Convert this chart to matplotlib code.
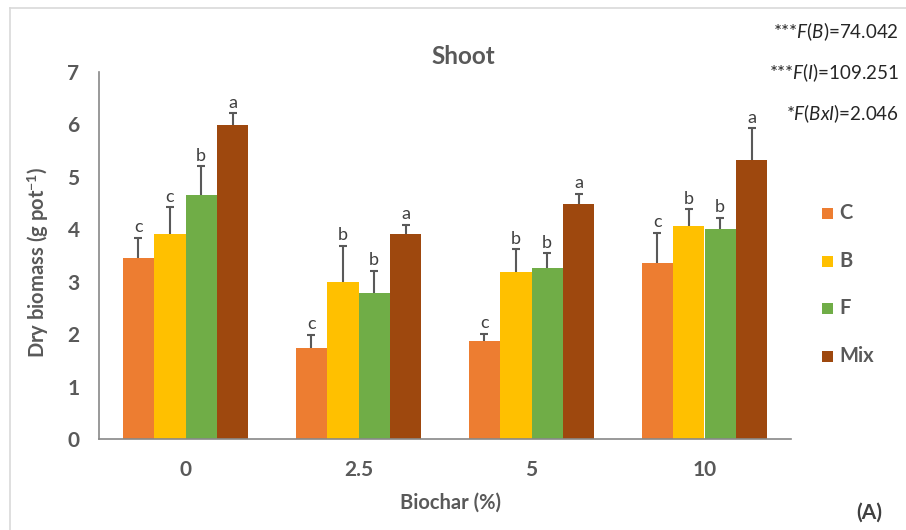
import matplotlib
matplotlib.use("Agg")
import matplotlib.pyplot as plt
import numpy as np

plt.rcParams['font.family'] = ['Lato', 'DejaVu Sans']
plt.rcParams['mathtext.fontset'] = 'custom'
plt.rcParams['mathtext.rm'] = 'Lato'
plt.rcParams['mathtext.it'] = 'Lato:italic'
plt.rcParams['mathtext.bf'] = 'Lato:bold'

categories = ["0", "2.5", "5", "10"]
series = ["C", "B", "F", "Mix"]
values = {
    "C":   [3.45, 1.74, 1.87, 3.35],
    "B":   [3.90, 3.00, 3.19, 4.07],
    "F":   [4.65, 2.78, 3.27, 4.00],
    "Mix": [5.99, 3.91, 4.48, 5.32],
}
errors = {
    "C":   [0.39, 0.25, 0.14, 0.58],
    "B":   [0.52, 0.69, 0.43, 0.31],
    "F":   [0.55, 0.43, 0.27, 0.22],
    "Mix": [0.22, 0.17, 0.19, 0.60],
}
letters = {
    "C":   ["c", "c", "c", "c"],
    "B":   ["c", "b", "b", "b"],
    "F":   ["b", "b", "b", "b"],
    "Mix": ["a", "a", "a", "a"],
}
colors = {"C": "#ED7D31", "B": "#FFC000", "F": "#70AD47", "Mix": "#9E480E"}
stats = [r"***$\mathit{F(B)}$=74.042", r"***$\mathit{F(I)}$=109.251", r"*$\mathit{F(BxI)}$=2.046"]

W, H = 906, 530
fig = plt.figure(figsize=(W / 100, H / 100), dpi=100)
ax = fig.add_axes([99 / W, 1 - 439.3 / H, (791 - 99) / W, (439.3 - 71.7) / H])

gray = "#595959"
x = np.arange(len(categories))
bw = 0.182
cap = 0.024
for i, s in enumerate(series):
    pos = x + (i - 1.5) * bw
    v = np.array(values[s])
    e = np.array(errors[s])
    ax.bar(pos, v, width=bw, color=colors[s], edgecolor='none', label=s, zorder=2)
    ax.vlines(pos, v, v + e, colors=gray, linewidth=1.5, zorder=3)
    ax.hlines(v + e, pos - cap, pos + cap, colors=gray, linewidth=1.5, zorder=3)
    for p, vv, ee, l in zip(pos, v, e, letters[s]):
        ax.text(p, vv + ee + 0.05, l, ha='center', va='bottom', fontsize=13, color="#404040")

ax.set_xlim(-0.5, 3.5)
ax.set_ylim(0, 7)
ax.set_yticks(range(0, 8))
ax.set_xticks(x)
ax.set_xticklabels(categories)
for sp in ['top', 'right']:
    ax.spines[sp].set_visible(False)
for sp in ['left', 'bottom']:
    ax.spines[sp].set_color("#888888")
    ax.spines[sp].set_linewidth(1.2)
ax.tick_params(axis='both', length=0, labelsize=15, labelcolor=gray)
ax.tick_params(axis='y', pad=14)
ax.tick_params(axis='x', pad=15)
for t in ax.get_xticklabels() + ax.get_yticklabels():
    t.set_fontweight('bold')

fig.text(463 / W, 1 - 57 / H, "Shoot", ha='center', va='center', fontsize=17.5,
         fontweight='bold', color=gray)
fig.text(38 / W, 1 - 262 / H, r"Dry biomass (g pot$^{\mathbf{-1}}$)", rotation=90,
         ha='center', va='center', fontsize=14.5, fontweight='bold', color=gray)
fig.text(450 / W, 1 - 503 / H, "Biochar (%)", ha='center', va='center', fontsize=14.5,
         fontweight='bold', color=gray)
fig.text(869 / W, 1 - 513 / H, "(A)", ha='center', va='center', fontsize=15,
         fontweight='bold', color="#404040")

for yy, s in zip([32, 73, 114], stats):
    fig.text(899 / W, 1 - yy / H, s, ha='right', va='center', fontsize=13.5, color="#262626")

# legend
ly = [213, 261, 308, 356]
for yy, s in zip(ly, series):
    fig.patches.append(plt.Rectangle((822 / W, 1 - (yy + 5.5) / H), 11 / W, 11 / H,
                                     transform=fig.transFigure, facecolor=colors[s],
                                     edgecolor='none'))
    fig.text(839 / W, 1 - yy / H, s, ha='left', va='center', fontsize=14.5,
             fontweight='bold', color=gray)

# chart area border (left and top visible)
fig.add_artist(plt.Line2D([10 / W, 10 / W], [0, 1 - 8 / H], transform=fig.transFigure,
                          color="#D9D9D9", linewidth=1.2))
fig.add_artist(plt.Line2D([10 / W, 1], [1 - 8 / H, 1 - 8 / H], transform=fig.transFigure,
                          color="#D9D9D9", linewidth=1.2))

fig.savefig("out.png", dpi=100)
